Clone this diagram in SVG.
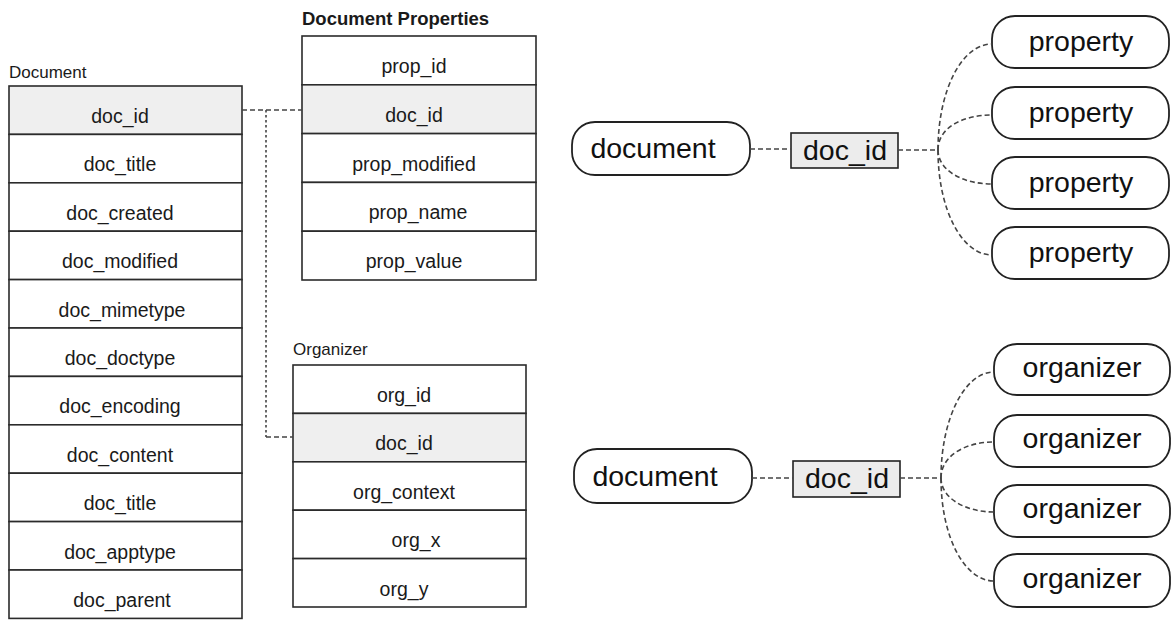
<svg xmlns="http://www.w3.org/2000/svg" width="1172" height="620" viewBox="0 0 1172 620">
  <style>
    .bg { fill: #ffffff; }
    .cell { fill: #ffffff; stroke: #2b2b2b; stroke-width: 1.6; }
    .key { fill: #efefef; stroke: #2b2b2b; stroke-width: 1.6; }
    .field { font-family: "Liberation Sans", Arial, sans-serif; font-size: 19.5px; fill: #1a1a1a; text-anchor: middle; }
    .title { font-family: "Liberation Sans", Arial, sans-serif; font-size: 17px; fill: #1a1a1a; }
    .title-strong { font-family: "Liberation Sans", Arial, sans-serif; font-size: 18.5px; font-weight: bold; fill: #1a1a1a; }
    .pill { fill: #ffffff; stroke: #222222; stroke-width: 1.8; }
    .tag { fill: #ececec; stroke: #222222; stroke-width: 1.6; }
    .big { font-family: "Liberation Sans", Arial, sans-serif; font-size: 28.5px; fill: #111111; text-anchor: middle; }
    .dash { fill: none; stroke: #444444; stroke-width: 1.6; stroke-dasharray: 5 3; }
    .dot { fill: none; stroke: #444444; stroke-width: 1.6; stroke-dasharray: 2.5 2.5; }
  </style>

  <rect class="bg" x="0" y="0" width="1172" height="620"/>

  <!-- Document table -->
  <g id="document-table">
    <text class="title" x="9" y="78">Document</text>
    <rect class="key" x="9" y="86" width="233" height="48.4"/>
    <rect class="cell" x="9" y="134.4" width="233" height="48.4"/>
    <rect class="cell" x="9" y="182.8" width="233" height="48.4"/>
    <rect class="cell" x="9" y="231.2" width="233" height="48.4"/>
    <rect class="cell" x="9" y="279.6" width="233" height="48.4"/>
    <rect class="cell" x="9" y="328" width="233" height="48.4"/>
    <rect class="cell" x="9" y="376.4" width="233" height="48.4"/>
    <rect class="cell" x="9" y="424.8" width="233" height="48.4"/>
    <rect class="cell" x="9" y="473.2" width="233" height="48.4"/>
    <rect class="cell" x="9" y="521.6" width="233" height="48.4"/>
    <rect class="cell" x="9" y="570" width="233" height="48.4"/>
    <text class="field" x="120" y="123">doc_id</text>
    <text class="field" x="120" y="171.4">doc_title</text>
    <text class="field" x="120" y="219.8">doc_created</text>
    <text class="field" x="120" y="268.2">doc_modified</text>
    <text class="field" x="122" y="316.6">doc_mimetype</text>
    <text class="field" x="120" y="365">doc_doctype</text>
    <text class="field" x="120" y="413.4">doc_encoding</text>
    <text class="field" x="120" y="461.8">doc_content</text>
    <text class="field" x="120" y="510.2">doc_title</text>
    <text class="field" x="120" y="558.6">doc_apptype</text>
    <text class="field" x="122" y="607">doc_parent</text>
  </g>

  <!-- Document Properties table -->
  <g id="properties-table">
    <text class="title-strong" x="302" y="25">Document Properties</text>
    <rect class="cell" x="302" y="36" width="234" height="48.8"/>
    <rect class="key" x="302" y="84.8" width="234" height="48.8"/>
    <rect class="cell" x="302" y="133.6" width="234" height="48.8"/>
    <rect class="cell" x="302" y="182.4" width="234" height="48.8"/>
    <rect class="cell" x="302" y="231.2" width="234" height="48.8"/>
    <text class="field" x="414" y="73">prop_id</text>
    <text class="field" x="414" y="121.8">doc_id</text>
    <text class="field" x="414" y="170.6">prop_modified</text>
    <text class="field" x="418" y="219.4">prop_name</text>
    <text class="field" x="414" y="268.2">prop_value</text>
  </g>

  <!-- Organizer table -->
  <g id="organizer-table">
    <text class="title" x="293" y="355">Organizer</text>
    <rect class="cell" x="293" y="365" width="233" height="48.4"/>
    <rect class="key" x="293" y="413.4" width="233" height="48.4"/>
    <rect class="cell" x="293" y="461.8" width="233" height="48.4"/>
    <rect class="cell" x="293" y="510.2" width="233" height="48.4"/>
    <rect class="cell" x="293" y="558.6" width="233" height="48.4"/>
    <text class="field" x="404" y="402">org_id</text>
    <text class="field" x="404" y="450.4">doc_id</text>
    <text class="field" x="404" y="498.8">org_context</text>
    <text class="field" x="416" y="547.2">org_x</text>
    <text class="field" x="404" y="595.6">org_y</text>
  </g>

  <!-- Property relationship -->
  <g id="property-document">
    <rect class="pill" x="572" y="122" width="178" height="53" rx="23"/>
    <text class="big" x="653" y="158">document</text>
  </g>
  <g id="property-key">
    <rect class="tag" x="791" y="133" width="107" height="35"/>
    <text class="big" x="845" y="160">doc_id</text>
  </g>
  <g id="property-1">
    <rect class="pill" x="992" y="16" width="177" height="52" rx="23"/>
    <text class="big" x="1081" y="51">property</text>
  </g>
  <g id="property-2">
    <rect class="pill" x="992" y="87" width="177" height="52" rx="23"/>
    <text class="big" x="1081" y="122">property</text>
  </g>
  <g id="property-3">
    <rect class="pill" x="992" y="157" width="177" height="52" rx="23"/>
    <text class="big" x="1081" y="192">property</text>
  </g>
  <g id="property-4">
    <rect class="pill" x="992" y="227" width="177" height="52" rx="23"/>
    <text class="big" x="1081" y="262">property</text>
  </g>

  <!-- Organizer relationship -->
  <g id="organizer-document">
    <rect class="pill" x="574" y="449" width="178" height="54" rx="23"/>
    <text class="big" x="655" y="486">document</text>
  </g>
  <g id="organizer-key">
    <rect class="tag" x="793" y="461" width="107" height="36"/>
    <text class="big" x="847" y="488">doc_id</text>
  </g>
  <g id="organizer-1">
    <rect class="pill" x="994" y="344" width="176" height="51" rx="23"/>
    <text class="big" x="1082" y="377">organizer</text>
  </g>
  <g id="organizer-2">
    <rect class="pill" x="994" y="415" width="176" height="52" rx="23"/>
    <text class="big" x="1082" y="448">organizer</text>
  </g>
  <g id="organizer-3">
    <rect class="pill" x="994" y="485" width="176" height="52" rx="23"/>
    <text class="big" x="1082" y="518">organizer</text>
  </g>
  <g id="organizer-4">
    <rect class="pill" x="994" y="554" width="176" height="53" rx="23"/>
    <text class="big" x="1082" y="588">organizer</text>
  </g>

  <!-- Connectors -->
  <g id="connectors">
    <path class="dash" d="M242,110 H302"/>
    <path class="dot" d="M266,110 V437"/>
    <path class="dash" d="M266,437 H293"/>

    <path class="dash" d="M750,149 H791"/>
    <path class="dash" d="M898,150 H938"/>
    <path class="dash" d="M938,150 C938,90 962,44 992,44"/>
    <path class="dash" d="M938,150 C938,128 962,115 992,115"/>
    <path class="dash" d="M938,150 C938,170 962,184 992,184"/>
    <path class="dash" d="M938,150 C938,210 962,255 992,255"/>

    <path class="dash" d="M752,478 H793"/>
    <path class="dash" d="M900,478 H941"/>
    <path class="dash" d="M941,478 C941,418 965,372 994,372"/>
    <path class="dash" d="M941,478 C941,456 965,442 994,442"/>
    <path class="dash" d="M941,478 C941,498 965,512 994,512"/>
    <path class="dash" d="M941,478 C941,538 965,581 994,581"/>
  </g>
</svg>
